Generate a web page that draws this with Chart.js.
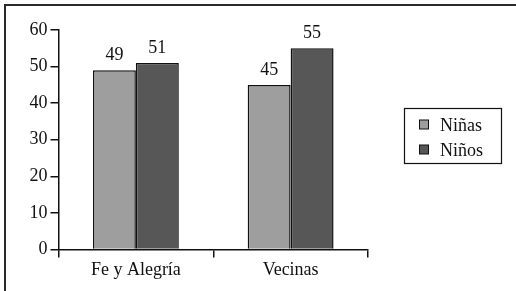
<!DOCTYPE html>
<html>
<head>
<meta charset="utf-8">
<script src="https://cdn.jsdelivr.net/npm/chart.js@4.4.1/dist/chart.umd.min.js"></script>
<style>
  html, body { margin: 0; padding: 0; background: #fff; }
  #wrap { position: relative; width: 516px; height: 291px; }
</style>
</head>
<body>
<div id="wrap"><canvas id="c" width="516" height="291"></canvas></div>
<script>
const categories = ["Fe y Alegría", "Vecinas"];
const seriesNames = ["Niñas", "Niños"];
const ninasValues = [49, 45];
const ninosValues = [51, 55];
const yTicks = [0, 10, 20, 30, 40, 50, 60];

const FONT = "'Liberation Serif', 'Times New Roman', serif";
const colors = ["#9e9e9e", "#575757"];

const framePlugin = {
  id: 'frame',
  beforeDraw(chart) {
    const ctx = chart.ctx;
    ctx.save();
    ctx.fillStyle = '#fff';
    ctx.fillRect(0, 0, chart.width, chart.height);
    ctx.strokeStyle = '#2a2a2a';
    ctx.lineWidth = 2;
    ctx.beginPath();
    ctx.moveTo(5, chart.height);
    ctx.lineTo(5, 5);
    ctx.lineTo(chart.width, 5);
    ctx.stroke();
    ctx.restore();
  }
};

const labelPlugin = {
  id: 'valueLabels',
  afterDatasetsDraw(chart) {
    const ctx = chart.ctx;
    ctx.save();
    ctx.font = "18px " + FONT;
    ctx.fillStyle = '#111';
    ctx.textAlign = 'center';
    ctx.textBaseline = 'alphabetic';
    chart.data.datasets.forEach((ds, i) => {
      const meta = chart.getDatasetMeta(i);
      meta.data.forEach((bar, j) => {
        ctx.fillText(String(ds.data[j]), bar.x, bar.y - 10);
      });
    });
    ctx.restore();
  }
};

const legendPlugin = {
  id: 'boxLegend',
  afterDraw(chart) {
    const ctx = chart.ctx;
    ctx.save();
    const x0 = 404.5, y0 = 108.5, w = 97, h = 55;
    ctx.strokeStyle = '#111';
    ctx.lineWidth = 1.2;
    ctx.strokeRect(x0, y0, w, h);
    ctx.font = "18px " + FONT;
    ctx.textBaseline = 'middle';
    ctx.textAlign = 'left';
    chart.data.datasets.forEach((ds, i) => {
      const cy = 125 + i * 25;
      ctx.fillStyle = ds.backgroundColor;
      ctx.fillRect(419.5, cy - 5, 9, 9);
      ctx.lineWidth = 1;
      ctx.strokeStyle = '#111';
      ctx.strokeRect(419.5, cy - 5, 9, 9);
      ctx.fillStyle = '#111';
      ctx.fillText(ds.label, 440, cy + 1);
    });
    ctx.restore();
  }
};

new Chart(document.getElementById('c'), {
  type: 'bar',
  data: {
    labels: categories,
    datasets: [
      { label: seriesNames[0], data: ninasValues, backgroundColor: colors[0], borderColor: '#111', borderWidth: 1.5, borderSkipped: 'bottom' },
      { label: seriesNames[1], data: ninosValues, backgroundColor: colors[1], borderColor: '#111', borderWidth: 1.5, borderSkipped: 'bottom' }
    ]
  },
  options: {
    responsive: false,
    animation: false,
    devicePixelRatio: 1,
    layout: { padding: { left: 0, right: 148, top: 30, bottom: 0 } },
    datasets: { bar: { categoryPercentage: 0.555, barPercentage: 1.0 } },
    plugins: { legend: { display: false }, tooltip: { enabled: false } },
    scales: {
      x: {
        offset: true,
        grid: { display: true, offset: true, drawOnChartArea: false, drawTicks: true, tickLength: 8, color: '#111', lineWidth: 1.5 },
        border: { display: true, color: '#111', width: 1.5 },
        ticks: { color: '#111', font: { family: FONT, size: 18 }, padding: 2 },
        afterFit(scale) { scale.height = 41.5; }
      },
      y: {
        min: 0, max: 60,
        afterBuildTicks(scale) { scale.ticks = yTicks.map(v => ({ value: v })); },
        grid: { display: true, drawOnChartArea: false, drawTicks: true, tickLength: 8, color: '#111', lineWidth: 1.5 },
        border: { display: true, color: '#111', width: 1.5 },
        ticks: { color: '#111', font: { family: FONT, size: 18 }, padding: 3 },
        afterFit(scale) { scale.width = 58.5; }
      }
    }
  },
  plugins: [framePlugin, labelPlugin, legendPlugin]
});
</script>
</body>
</html>
